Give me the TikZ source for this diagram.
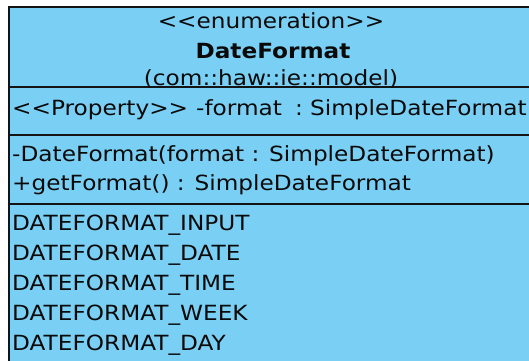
\documentclass[tikz,border=0pt]{standalone}
\usepackage{fontspec}
\newfontfamily\umlfont[FakeStretch=1.11]{DejaVu Sans}
\definecolor{classfill}{HTML}{7ACFF4}
\definecolor{classline}{HTML}{141414}
\definecolor{classtext}{HTML}{0A0A0A}
\tikzset{
  umltext/.style={inner sep=0pt, text=classtext, font=\umlfont\fontsize{20.9}{25}\selectfont},
  lefttext/.style={umltext, anchor=base west},
  midtext/.style={umltext, anchor=base},
  border/.style={draw=classline, line width=2.2pt},
  divider/.style={draw=classline, line width=1.6pt},
}
\begin{document}
\begin{tikzpicture}[x=1pt, y=-1pt]
  \useasboundingbox (0,0) rectangle (529,360);
  \clip (0,0) rectangle (529,360);

  % class body
  \path[fill=classfill, border] (9,7) rectangle (533,380);

  % compartment dividers
  \coordinate (d1l) at (9,87);   \coordinate (d1r) at (533,87);
  \coordinate (d2l) at (9,135);  \coordinate (d2r) at (533,135);
  \coordinate (d3l) at (9,204);  \coordinate (d3r) at (533,204);
  \draw[divider] (d1l) -- (d1r);
  \draw[divider] (d2l) -- (d2r);
  \draw[divider] (d3l) -- (d3r);

  % header
  \node[midtext] (stereo) at (271,28) {<<enumeration>>};
  \node[midtext, font=\umlfont\bfseries\fontsize{20.9}{25}\selectfont] (name) at (273,58) {DateFormat};
  \node[midtext] (pkg) at (271,85.5) {(com::haw::ie::model)};

  % attributes: stereotype, name, colon and type in fixed columns
  \node[lefttext] (attr) at (12,115)
    {\makebox[184pt][l]{<<Property>>}\makebox[99pt][l]{-format}\makebox[15pt][l]{:}SimpleDateFormat};

  % operations
  \node[lefttext] (op1) at (12,161.5) {-DateFormat(format : SimpleDateFormat)};
  \node[lefttext] (op2) at (12,190) {+getFormat() : SimpleDateFormat};

  % literals
  \node[lefttext] (lit1) at (12,230) {DATEFORMAT\_INPUT};
  \node[lefttext] (lit2) at (12,260) {DATEFORMAT\_DATE};
  \node[lefttext] (lit3) at (12,290) {DATEFORMAT\_TIME};
  \node[lefttext] (lit4) at (12,320) {DATEFORMAT\_WEEK};
  \node[lefttext] (lit5) at (12,350) {DATEFORMAT\_DAY};
\end{tikzpicture}
\end{document}
